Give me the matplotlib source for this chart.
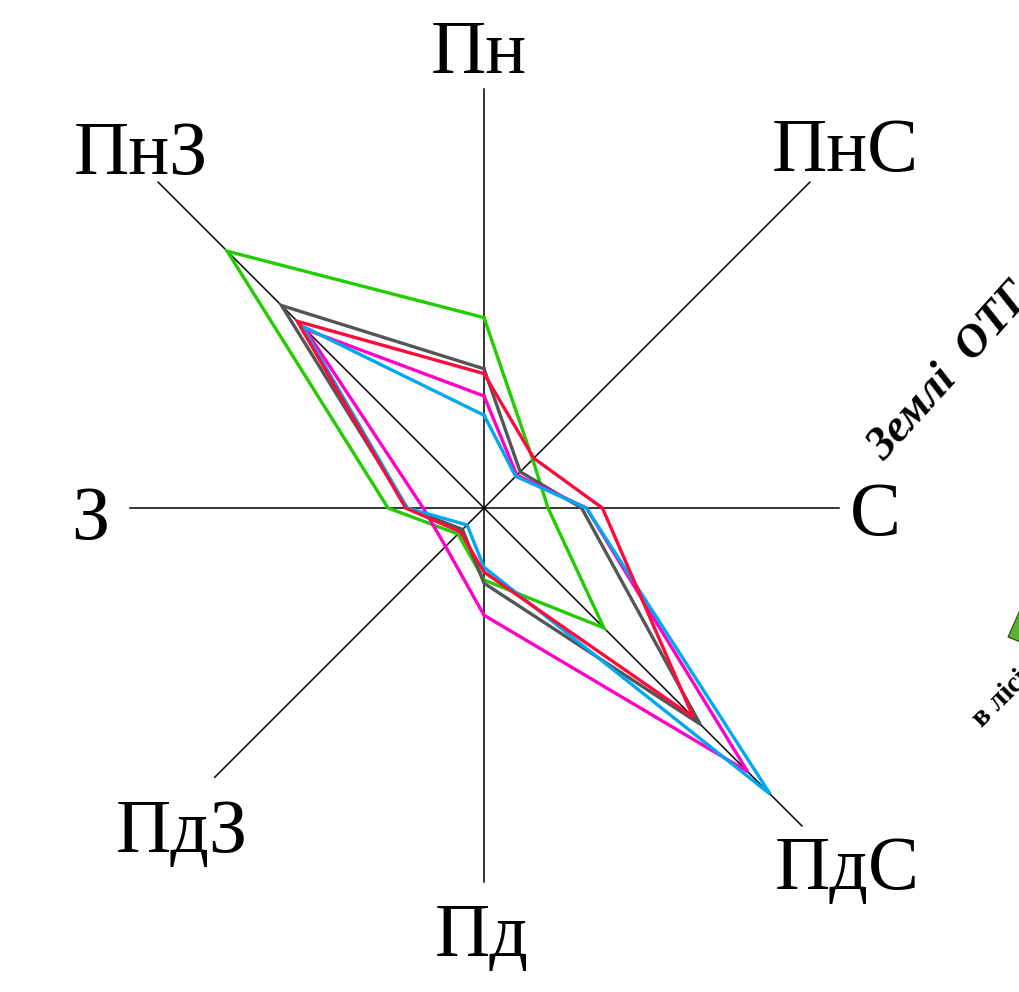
import numpy as np
import matplotlib.pyplot as plt
from matplotlib.patches import Polygon

# напрямки (за годинниковою стрілкою від Пн)
directions = ['Пн', 'ПнС', 'С', 'ПдС', 'Пд', 'ПдЗ', 'З', 'ПнЗ']

# довжина променів осей (у тих же одиницях, що й дані)
axis_len = [26.2, 28.8, 22.2, 28.1, 23.4, 23.8, 22.1, 28.8]

# повторюваність вітрів, %
green = [11.9, 4.3, 4.0, 10.6, 4.5, 2.3, 6.0, 22.7]
grey = [8.7, 3.2, 6.1, 19.1, 4.7, 1.9, 4.8, 17.9]
magenta = [7.0, 2.9, 6.4, 23.3, 6.7, 3.4, 3.8, 15.8]
blue = [5.8, 2.8, 6.4, 25.3, 3.7, 1.5, 4.8, 16.1]
red = [8.4, 4.4, 7.4, 18.5, 4.0, 2.1, 4.9, 16.5]

series = [(green, '#22cc00'), (grey, '#555555'), (magenta, '#ff00c8'),
          (blue, '#00a8f0'), (red, '#ff0a3c')]

SCALE = 16  # пікселів на одиницю
W, H = 1019, 992
cx, cy = 484, 508

# позиції підписів (базова лінія), px
label_pos = [(479, 73), (845, 171), (875, 535), (847, 889),
             (482, 956), (182, 852), (90, 539), (141, 174)]

ang = np.deg2rad(np.arange(8) * 45)


def to_xy(vals):
    v = np.array(vals) * SCALE
    return v * np.sin(ang), v * np.cos(ang)


fig = plt.figure(figsize=(W / 100, H / 100), dpi=100)
ax = fig.add_axes([0, 0, 1, 1])
ax.set_xlim(-cx, W - cx)
ax.set_ylim(cy - H, cy)
ax.axis('off')

# осі
ax_x, ax_y = to_xy(axis_len)
for x, y in zip(ax_x, ax_y):
    ax.plot([0, x], [0, y], color='black', lw=1.1)

# лінії рози вітрів
for vals, col in series:
    x, y = to_xy(vals)
    ax.plot(np.append(x, x[0]), np.append(y, y[0]), color=col, lw=2.4,
            solid_joinstyle='miter')

# підписи напрямків
for name, (px, py) in zip(directions, label_pos):
    ax.text(px - cx, cy - py, name, fontsize=55, family='Liberation Serif',
            ha='center', va='baseline')

# обрізані фрагменти сусідніх елементів сторінки
ax.text(884 - cx, cy - 462, 'Землі  ОТГ', fontsize=33, family='Liberation Serif',
        fontweight='bold', fontstyle='italic', rotation=48,
        rotation_mode='anchor', ha='left', va='baseline')
ax.text(982 - cx, cy - 728, 'в лісі', fontsize=21, family='Liberation Serif',
        fontweight='bold', rotation=45, rotation_mode='anchor',
        ha='left', va='baseline')
ax.add_patch(Polygon([(1008 - cx, cy - 637), (1020 - cx, cy - 610),
                      (1040 - cx, cy - 650)], closed=True,
                     facecolor='#5cb030', edgecolor='#2a4a10', lw=0.8))
ax.text(665 - cx, cy - 1014, 'Хмарні', fontsize=22, family='Liberation Serif',
        fontweight='bold', fontstyle='italic', ha='left', va='baseline')

fig.savefig('out.png', dpi=100)
